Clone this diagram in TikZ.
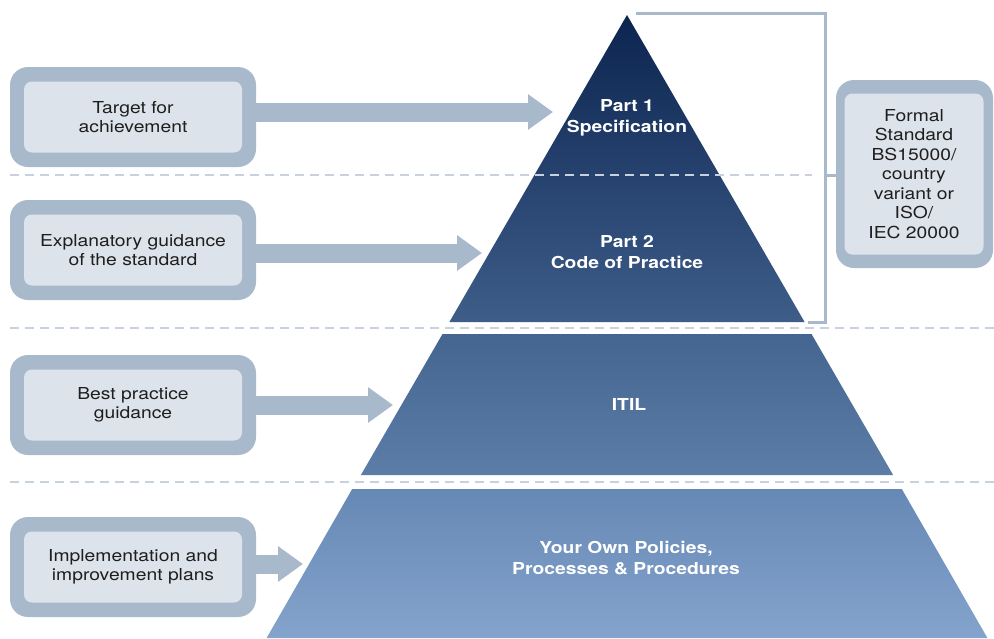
\documentclass[tikz,border=0pt]{standalone}
\usepackage{fontspec}
\setmainfont{TeX Gyre Heros}[FakeStretch=1.17]
\usetikzlibrary{arrows.meta}
\definecolor{boxedge}{HTML}{A9B9CC}
\definecolor{boxfill}{HTML}{DDE3EB}
\definecolor{dashcol}{HTML}{C8D2DE}
\definecolor{inktext}{HTML}{1E1E1E}
\definecolor{tierA}{HTML}{0C2450}
\definecolor{tierB}{HTML}{3E5D89}
\definecolor{tierC}{HTML}{44658F}
\definecolor{tierD}{HTML}{5B7DA7}
\definecolor{tierE}{HTML}{6688B4}
\definecolor{tierF}{HTML}{84A4CD}
\begin{document}
\begin{tikzpicture}[x=1pt,y=-1pt,
  outerbox/.style={draw=none,fill=boxedge,rounded corners=18pt,minimum width=246pt,minimum height=100pt,inner sep=0pt},
  innerbox/.style={draw=none,fill=boxfill,rounded corners=8pt,minimum width=218pt,minimum height=71pt,inner sep=0pt,
    align=center,text=inktext,font=\fontsize{16.5}{19.5}\selectfont},
  tiertext/.style={align=center,text=white,font=\fontsize{16.5}{21}\selectfont\bfseries},
  blockarrow/.style={draw=boxedge,line width=19pt,-{Triangle[width=34pt,length=25pt]}},
  dashline/.style={draw=dashcol,line width=2.6pt,dash pattern=on 9pt off 6pt},
  bracketline/.style={draw=boxedge,line width=3pt}]
\useasboundingbox (0,0) rectangle (994,638);
\fill[white] (0,0) rectangle (994,638);

% pyramid tiers
\coordinate (apex) at (627,15);
\shade[top color=tierA,bottom color=tierB] (apex) -- (804.6,322) -- (449.4,322) -- cycle;
\shade[top color=tierC,bottom color=tierD] (442.5,334) -- (811.5,334) -- (893.1,475) -- (360.9,475) -- cycle;
\shade[top color=tierE,bottom color=tierF] (352.2,489) -- (901.8,489) -- (987.4,638) -- (266.6,638) -- cycle;

% layer separators
\draw[dashline] (10,175) -- (812,175);
\draw[dashline] (10,328) -- (994,328);
\draw[dashline] (10,482) -- (994,482);

% tier labels
\node[tiertext] (p1) at (627,118) {Part 1\\Specification};
\node[tiertext] (p2) at (627,252) {Part 2\\Code of Practice};
\node[tiertext] (itil) at (629,404) {ITIL};
\node[tiertext] (own) at (626,558) {Your Own Policies,\\Processes \& Procedures};

% left explanation boxes
\node[outerbox] (b1o) at (133,117) {};
\node[innerbox] (b1) at (133,117) {Target for\\achievement};
\node[outerbox] (b2o) at (133,250) {};
\node[innerbox] (b2) at (133,250) {Explanatory guidance\\of the standard};
\node[outerbox] (b3o) at (133,405) {};
\node[innerbox] (b3) at (133,405) {Best practice\\guidance};
\node[outerbox] (b4o) at (133,567) {};
\node[innerbox] (b4) at (133,567) {Implementation and\\improvement plans};

% arrow tips on the pyramid
\coordinate (t1) at (553,112);
\coordinate (t2) at (482,253);
\coordinate (t3) at (393,405);
\coordinate (t4) at (303,564);
\draw[blockarrow] (b1o.east |- t1) -- (t1);
\draw[blockarrow] (b2o.east |- t2) -- (t2);
\draw[blockarrow] (b3o.east |- t3) -- (t3);
\draw[blockarrow] (b4o.east |- t4) -- (t4);

% formal standard box and bracket
\node[outerbox,minimum width=157pt,minimum height=188pt] (fso) at (914.5,174) {};
\node[innerbox,minimum width=139pt,minimum height=161pt] (fs) at (914,174)
  {Formal\\Standard\\BS15000/\\country\\variant or\\ISO/\\IEC 20000};
\coordinate (brtop) at (636,13);
\coordinate (brbot) at (808,322);
\coordinate (brmid) at (825,175);
\draw[bracketline] (brtop) -| (brmid) |- (brbot);
\draw[bracketline] (brmid) -- (fso.west |- brmid);
\end{tikzpicture}
\end{document}
